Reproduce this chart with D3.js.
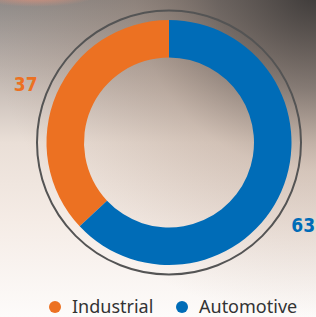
<!DOCTYPE html>
<html>
<head>
<meta charset="utf-8">
<script src="https://cdn.jsdelivr.net/npm/d3@7"></script>
<style>
  html, body { margin: 0; padding: 0; background: #fff; }
  svg { display: block; }
</style>
</head>
<body>
<div id="chart"></div>
<script>
// data
const categories = ["Industrial", "Automotive"];
const values = [37, 63];
const colors = ["#ec7122", "#006cb7"];
const labelNudge = [[-1, 3], [-8, 21]]; // small label offsets from the label arc

const width = 316;
const height = 317;
const cx = 169, cy = 142.5;
const outerR = 122.5, innerR = 85, ringR = 132;

const svg = d3.select("#chart")
    .append("svg")
    .attr("width", width)
    .attr("height", height);

const defs = svg.append("defs");

// background: vertical base plus darker corner at top right
const bg = defs.append("linearGradient")
    .attr("id", "bg").attr("x1", 0).attr("y1", 0).attr("x2", 0).attr("y2", 1);
[["0%", "#8e8a88"], ["20%", "#b9afa9"], ["45%", "#eadfd7"], ["70%", "#f5ece6"], ["100%", "#fdfbfa"]]
    .forEach(s => bg.append("stop").attr("offset", s[0]).attr("stop-color", s[1]));

const corner = defs.append("radialGradient")
    .attr("id", "corner").attr("gradientUnits", "userSpaceOnUse")
    .attr("cx", 316).attr("cy", -10).attr("r", 330);
[["0%", "#2e2b2a", 0.85], ["30%", "#4e433d", 0.55], ["55%", "#8a6a55", 0.25], ["100%", "#9a7a66", 0]]
    .forEach(s => corner.append("stop").attr("offset", s[0]).attr("stop-color", s[1]).attr("stop-opacity", s[2]));

const glow = defs.append("radialGradient")
    .attr("id", "glow").attr("gradientUnits", "userSpaceOnUse")
    .attr("cx", 35).attr("cy", -4).attr("r", 60)
    .attr("gradientTransform", "translate(35,-4) scale(1,0.18) translate(-35,4)");
glow.append("stop").attr("offset", "0%").attr("stop-color", "#e8937a").attr("stop-opacity", 0.85);
glow.append("stop").attr("offset", "100%").attr("stop-color", "#e8937a").attr("stop-opacity", 0);

svg.append("rect").attr("width", width).attr("height", height).attr("fill", "url(#bg)");
svg.append("rect").attr("width", width).attr("height", height).attr("fill", "url(#corner)");
svg.append("rect").attr("width", width).attr("height", 20).attr("fill", "url(#glow)");

const g = svg.append("g").attr("transform", `translate(${cx},${cy})`);

// outer thin ring
g.append("circle")
    .attr("r", ringR)
    .attr("fill", "none")
    .attr("stroke", "#545454")
    .attr("stroke-width", 2);

const total = d3.sum(values);
const start = -2 * Math.PI * values[0] / total;
const pie = d3.pie().sort(null).startAngle(start).endAngle(start + 2 * Math.PI);
const arcs = pie(values);

const arc = d3.arc().innerRadius(innerR).outerRadius(outerR);

g.selectAll(".slice")
    .data(arcs)
    .enter()
    .append("path")
    .attr("class", "slice")
    .attr("d", arc)
    .attr("fill", (d, i) => colors[i]);

// value labels
const labelArc = d3.arc().innerRadius(155).outerRadius(155);
g.selectAll(".val")
    .data(arcs)
    .enter()
    .append("text")
    .attr("class", "val")
    .attr("x", (d, i) => labelArc.centroid(d)[0] + labelNudge[i][0])
    .attr("y", (d, i) => labelArc.centroid(d)[1] + labelNudge[i][1])
    .attr("text-anchor", "middle")
    .attr("dy", "0.35em")
    .style("font-family", "'Liberation Sans Narrow', 'DejaVu Sans Condensed', sans-serif")
    .style("font-weight", "bold")
    .style("font-size", "19px")
    .attr("fill", (d, i) => colors[i])
    .text(d => d.data);

// legend
const legend = svg.append("g").attr("transform", "translate(0,307)");
const legendX = [55, 182];
const items = legend.selectAll(".item")
    .data(categories)
    .enter()
    .append("g")
    .attr("class", "item")
    .attr("transform", (d, i) => `translate(${legendX[i]},0)`);

items.append("circle")
    .attr("r", 6)
    .attr("fill", (d, i) => colors[i]);

items.append("text")
    .attr("x", 17)
    .attr("y", 6)
    .style("font-family", "'Noto Sans', sans-serif")
    .style("font-size", "18px")
    .attr("fill", "#333")
    .text(d => d);
</script>
</body>
</html>
